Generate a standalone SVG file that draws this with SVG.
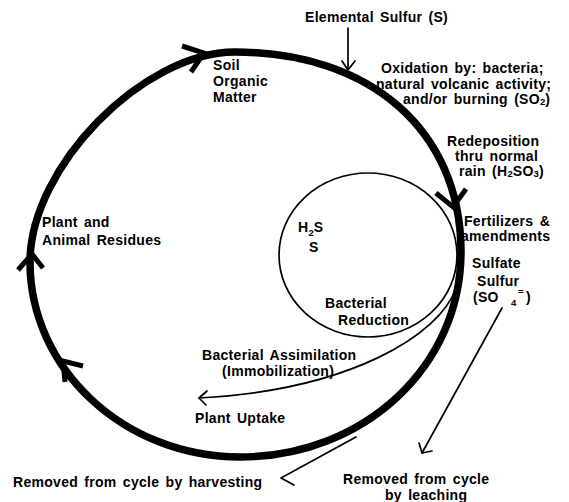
<svg xmlns="http://www.w3.org/2000/svg" width="569" height="502" viewBox="0 0 569 502">
<style>
  text { font-family: "Liberation Sans", Arial, sans-serif; font-weight: bold; font-size: 14px; letter-spacing: 0.3px; word-spacing: 2px; fill: #000; }
  .sub { font-size: 9.5px; letter-spacing: 0; }
  .thick { fill: none; stroke: #000; stroke-width: 7.5; stroke-linecap: round; stroke-linejoin: round; }
  .head { fill: none; stroke: #000; stroke-width: 5; stroke-linecap: butt; stroke-linejoin: miter; }
  .thin { fill: none; stroke: #000; stroke-width: 1.7; stroke-linecap: round; stroke-linejoin: round; }
</style>
<rect width="569" height="502" fill="#fff"/>
<g id="connectors">
  <path class="thick" d="M30,262 C30,167 143,52 235,52 C371,52 460,131 461,250 C462,366 364,457 240,457 C124,457 30,369 30,262 Z"/>
  <path class="head" d="M182,46 L204,53 L191,72"/>
  <path class="head" d="M436,193 L453,207 L466,189"/>
  <path class="head" d="M18,270 L32,254 L43,268"/>
  <path class="head" d="M65,382 L63,361 L83,366"/>
  <ellipse class="thin" cx="368" cy="255" rx="89" ry="82"/>
  <path class="thin" d="M456,288 C440,335 350,390 199,398"/>
  <path class="thin" d="M207,391 L199,398 L206,405"/>
  <path class="thin" d="M348,28 L348,69"/>
  <path class="thin" d="M342,61 L348,70 L355,61"/>
  <path class="thin" d="M502,308 L422,453"/>
  <path class="thin" d="M419,443 L422,453 L432,451"/>
  <path class="thin" d="M356,437 L281,478 L294,485"/>
</g>
<g id="elemental-sulfur"><text x="305" y="22">Elemental Sulfur (S)</text></g>
<g id="oxidation">
  <text x="381" y="73">Oxidation by: bacteria;</text>
  <text x="376" y="89">natural volcanic activity;</text>
  <text x="403" y="104">and/or burning (SO<tspan class="sub" dy="1">2</tspan><tspan dy="-1">)</tspan></text>
</g>
<g id="soil-organic-matter">
  <text x="213" y="70">Soil</text>
  <text x="213" y="86">Organic</text>
  <text x="213" y="102">Matter</text>
</g>
<g id="redeposition">
  <text x="447" y="146">Redeposition</text>
  <text x="455" y="161">thru normal</text>
  <text x="459" y="176">rain (H<tspan class="sub" dy="1">2</tspan><tspan dy="-1">SO</tspan><tspan class="sub" dy="1">3</tspan><tspan dy="-1">)</tspan></text>
</g>
<g id="fertilizers">
  <text x="464" y="226">Fertilizers &amp;</text>
  <text x="461" y="241">amendments</text>
</g>
<g id="sulfate-sulfur">
  <text x="472" y="268">Sulfate</text>
  <text x="477" y="286">Sulfur</text>
  <text x="473" y="302">(SO</text>
  <text class="sub" x="511" y="306">4</text>
  <text class="sub" x="518" y="295">=</text>
  <text x="526" y="302">)</text>
</g>
<g id="plant-animal-residues">
  <text x="42" y="227">Plant and</text>
  <text x="42" y="245">Animal Residues</text>
</g>
<g id="h2s">
  <text x="298" y="232">H<tspan class="sub" dy="4">2</tspan><tspan dy="-4">S</tspan></text>
  <text x="309" y="252">S</text>
</g>
<g id="bacterial-reduction">
  <text x="325" y="308">Bacterial</text>
  <text x="338" y="325">Reduction</text>
</g>
<g id="bacterial-assimilation">
  <text x="202" y="360">Bacterial Assimilation</text>
  <text x="222" y="376">(Immobilization)</text>
</g>
<g id="plant-uptake"><text x="195" y="423">Plant Uptake</text></g>
<g id="harvesting"><text x="13" y="487">Removed from cycle by harvesting</text></g>
<g id="leaching">
  <text x="343" y="484">Removed from cycle</text>
  <text x="385" y="500">by leaching</text>
</g>
</svg>
